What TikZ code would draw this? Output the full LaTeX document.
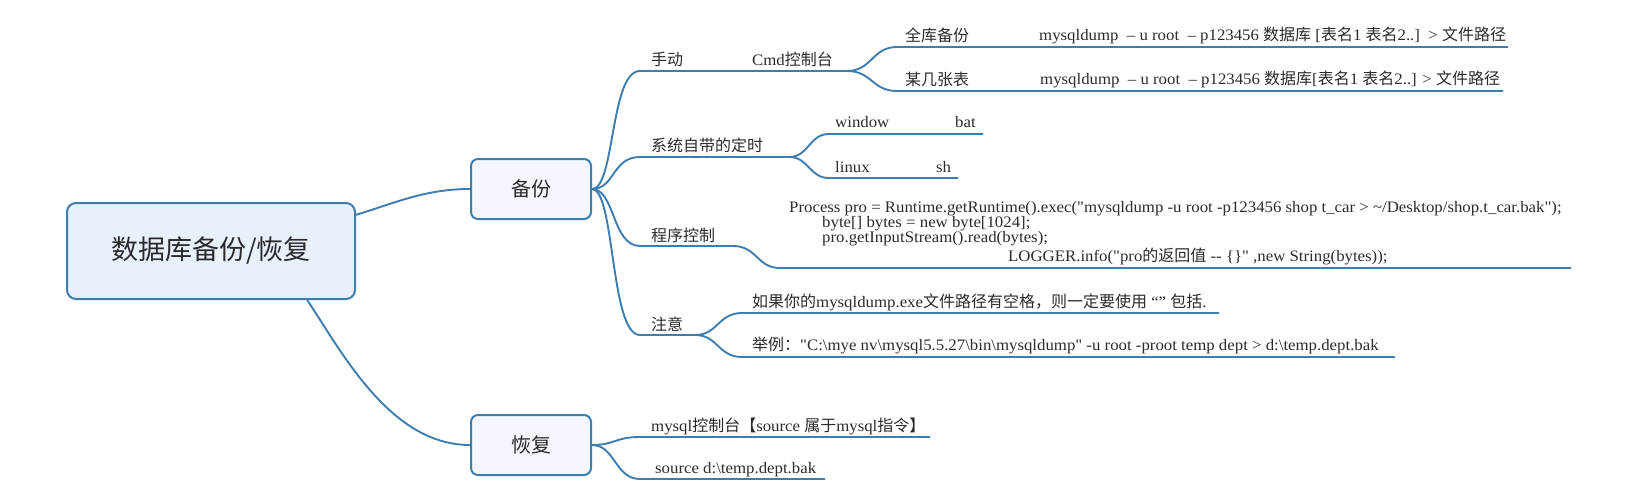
\documentclass[tikz,border=0pt]{standalone}
\usepackage{fontspec}
\setmainfont{Liberation Serif}[Ligatures=TeXOff, FakeStretch=1.05]
\newfontfamily\cjk{Noto Sans CJK SC}
\newcommand\zh[1]{{\cjk #1}}
\definecolor{linec}{HTML}{3D7DB0}
\definecolor{rootfill}{HTML}{E8F1FB}
\definecolor{subfill}{HTML}{F3F7FD}
\definecolor{textc}{HTML}{2B2B2B}
\tikzset{
  link/.style={draw=linec, line width=1.9pt},
  rootbox/.style={draw=linec, line width=2pt, fill=rootfill, rounded corners=9pt,
    minimum width=288pt, minimum height=96pt, inner sep=0pt, text=textc,
    font=\cjk\fontsize{27}{32}\selectfont},
  subbox/.style={draw=linec, line width=2pt, fill=subfill, rounded corners=7pt,
    minimum width=120pt, minimum height=60pt, inner sep=0pt, text=textc,
    font=\cjk\fontsize{20}{24}\selectfont},
  lbl/.style={anchor=base west, inner sep=0pt, text=textc, font=\fontsize{16}{19}\selectfont},
}
\begin{document}
\begin{tikzpicture}[x=1pt,y=-1pt]
\useasboundingbox (0,0) rectangle (1638,500);
% boxes
\node[rootbox] (root) at (211,251) {数据库备份/恢复};
\node[subbox] (beifen) at (531,189) {备份};
\node[subbox] (huifu) at (531,445) {恢复};
% line coordinates
\coordinate (sdS) at (640,71); \coordinate (sdE) at (735,71); \coordinate (cmdE) at (847,71);
\coordinate (qkS) at (897,47); \coordinate (qkE) at (1508,47);
\coordinate (mjS) at (897,91); \coordinate (mjE) at (1503,91);
\coordinate (xtS) at (640,157); \coordinate (xtE) at (789,157);
\coordinate (winS) at (829,134); \coordinate (winE) at (983,134);
\coordinate (linS) at (829,178); \coordinate (linE) at (958,178);
\coordinate (cxS) at (640,246); \coordinate (cxE) at (733,246);
\coordinate (codeS) at (780,268); \coordinate (codeE) at (1571,268);
\coordinate (zyS) at (640,335); \coordinate (zyE) at (695,335);
\coordinate (nAS) at (742,313); \coordinate (nAE) at (1219,313);
\coordinate (nBS) at (742,357); \coordinate (nBE) at (1395,357);
\coordinate (rAS) at (640,437); \coordinate (rAE) at (930,437);
\coordinate (rBS) at (640,479); \coordinate (rBE) at (825,479);
% texts
\node[lbl] (shoudong) at (651,66) {\zh{手动}};
\node[lbl] (cmd) at (752,66) {Cmd\zh{控制台}};
\node[lbl] (quanku) at (905,42) {\zh{全库备份}};
\node[lbl] (dumpA) at (1039,41) {mysqldump~~– u root~~– p123456 \zh{数据库} [\zh{表名}1 \zh{表名}2..]~~> \zh{文件路径}};
\node[lbl] (moujizhang) at (905,86) {\zh{某几张表}};
\node[lbl] (dumpB) at (1040,85) {mysqldump~~– u root~~– p123456 \zh{数据库}[\zh{表名}1 \zh{表名}2..] > \zh{文件路径}};
\node[lbl] (xitong) at (651,152) {\zh{系统自带的定时}};
\node[lbl] (window) at (835,128) {window};
\node[lbl] (bat) at (955,128) {bat};
\node[lbl] (linux) at (835,172) {linux};
\node[lbl] (sh) at (936,172) {sh};
\node[lbl] (chengxu) at (651,241) {\zh{程序控制}};
\node[lbl] (codeA) at (789,212) {Process pro = Runtime.getRuntime().exec("mysqldump -u root -p123456 shop t\_car > \textasciitilde/Desktop/shop.t\_car.bak");};
\node[lbl] (codeB) at (822,227) {byte[] bytes = new byte[1024];};
\node[lbl] (codeC) at (822,242) {pro.getInputStream().read(bytes);};
\node[lbl] (codeD) at (1008,261) {LOGGER.info("pro\zh{的返回值} -- \{\}" ,new String(bytes));};
\node[lbl] (zhuyi) at (651,330) {\zh{注意}};
\node[lbl] (noteA) at (752,307) {\zh{如果你的}mysqldump.exe\zh{文件路径有空格，则一定要使用} “” \zh{包括}.};
\node[lbl] (noteB) at (752,350) {\zh{举例：}"C:\textbackslash mye nv\textbackslash mysql5.5.27\textbackslash bin\textbackslash mysqldump" -u root -proot temp dept > d:\textbackslash temp.dept.bak};
\node[lbl] (restA) at (651,431) {mysql\zh{控制台【}source \zh{属于}mysql\zh{指令】}};
\node[lbl] (restB) at (655,473) {source d:\textbackslash temp.dept.bak};
% connectors
\draw[link] (root.14) .. controls (395,203) and (425,189) .. (beifen.west);
\draw[link] (root.-27.6) .. controls (342,352) and (390,445) .. (huifu.west);
\draw[link] (beifen.east) .. controls (615,189) and (610,71) .. (sdS) -- (sdE);
\draw[link] (sdE) -- (cmdE);
\draw[link] (cmdE) .. controls (872,71) and (872,47) .. (qkS) -- (qkE);
\draw[link] (cmdE) .. controls (872,71) and (872,91) .. (mjS) -- (mjE);
\draw[link] (beifen.east) .. controls (615,189) and (612,157) .. (xtS) -- (xtE);
\draw[link] (xtE) .. controls (809,157) and (809,134) .. (winS) -- (winE);
\draw[link] (xtE) .. controls (809,157) and (809,178) .. (linS) -- (linE);
\draw[link] (beifen.east) .. controls (615,189) and (612,246) .. (cxS) -- (cxE);
\draw[link] (cxE) .. controls (757,246) and (757,268) .. (codeS) -- (codeE);
\draw[link] (beifen.east) .. controls (615,189) and (610,335) .. (zyS) -- (zyE);
\draw[link] (zyE) .. controls (718,335) and (718,313) .. (nAS) -- (nAE);
\draw[link] (zyE) .. controls (718,335) and (718,357) .. (nBS) -- (nBE);
\draw[link] (huifu.east) .. controls (615,445) and (615,437) .. (rAS) -- (rAE);
\draw[link] (huifu.east) .. controls (615,445) and (615,479) .. (rBS) -- (rBE);
\end{tikzpicture}
\end{document}
